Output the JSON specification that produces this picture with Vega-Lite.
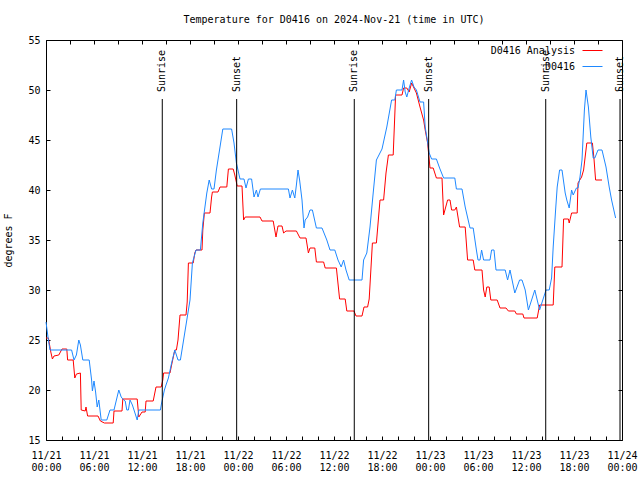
{
  "$schema": "https://vega.github.io/schema/vega-lite/v6.json",
  "width": 576,
  "height": 400,
  "autosize": {"type": "none"},
  "padding": {"left": 46, "top": 40, "right": 18, "bottom": 40},
  "background": "white",
  "title": {"text": "Temperature for D0416 on 2024-Nov-21 (time in UTC)", "font": "DejaVu Sans Mono", "fontSize": 10, "fontWeight": "normal", "anchor": "middle", "offset": 10, "color": "black"},
  "config": {
    "view": {"stroke": "black", "strokeWidth": 1},
    "axis": {"domain": false, "grid": false, "labelFont": "DejaVu Sans Mono", "labelFontSize": 10, "labelColor": "black", "titleFont": "DejaVu Sans Mono", "titleFontSize": 10, "titleFontWeight": "normal", "titleColor": "black", "tickColor": "black", "tickWidth": 1},
    "legend": {"labelFont": "DejaVu Sans Mono", "labelFontSize": 10, "labelColor": "black"}
  },
  "datasets": {
    "temps": [
      {"t": "2024-11-21T00:00:00Z", "temp": 25.2, "series": "D0416 Analysis"},
      {"t": "2024-11-21T00:18:00Z", "temp": 25.2, "series": "D0416 Analysis"},
      {"t": "2024-11-21T00:36:00Z", "temp": 23.8, "series": "D0416 Analysis"},
      {"t": "2024-11-21T00:48:00Z", "temp": 23.1, "series": "D0416 Analysis"},
      {"t": "2024-11-21T01:00:00Z", "temp": 23.4, "series": "D0416 Analysis"},
      {"t": "2024-11-21T01:36:00Z", "temp": 23.5, "series": "D0416 Analysis"},
      {"t": "2024-11-21T02:00:00Z", "temp": 24.1, "series": "D0416 Analysis"},
      {"t": "2024-11-21T02:36:00Z", "temp": 24.1, "series": "D0416 Analysis"},
      {"t": "2024-11-21T02:42:00Z", "temp": 23.0, "series": "D0416 Analysis"},
      {"t": "2024-11-21T03:24:00Z", "temp": 23.0, "series": "D0416 Analysis"},
      {"t": "2024-11-21T03:36:00Z", "temp": 21.2, "series": "D0416 Analysis"},
      {"t": "2024-11-21T03:48:00Z", "temp": 21.6, "series": "D0416 Analysis"},
      {"t": "2024-11-21T04:18:00Z", "temp": 21.7, "series": "D0416 Analysis"},
      {"t": "2024-11-21T04:24:00Z", "temp": 18.0, "series": "D0416 Analysis"},
      {"t": "2024-11-21T04:54:00Z", "temp": 17.9, "series": "D0416 Analysis"},
      {"t": "2024-11-21T05:00:00Z", "temp": 18.3, "series": "D0416 Analysis"},
      {"t": "2024-11-21T05:12:00Z", "temp": 17.4, "series": "D0416 Analysis"},
      {"t": "2024-11-21T06:30:00Z", "temp": 17.4, "series": "D0416 Analysis"},
      {"t": "2024-11-21T06:48:00Z", "temp": 16.9, "series": "D0416 Analysis"},
      {"t": "2024-11-21T07:18:00Z", "temp": 16.7, "series": "D0416 Analysis"},
      {"t": "2024-11-21T08:24:00Z", "temp": 16.7, "series": "D0416 Analysis"},
      {"t": "2024-11-21T08:30:00Z", "temp": 17.9, "series": "D0416 Analysis"},
      {"t": "2024-11-21T09:30:00Z", "temp": 17.9, "series": "D0416 Analysis"},
      {"t": "2024-11-21T09:36:00Z", "temp": 19.1, "series": "D0416 Analysis"},
      {"t": "2024-11-21T11:24:00Z", "temp": 19.1, "series": "D0416 Analysis"},
      {"t": "2024-11-21T11:36:00Z", "temp": 17.3, "series": "D0416 Analysis"},
      {"t": "2024-11-21T12:00:00Z", "temp": 17.8, "series": "D0416 Analysis"},
      {"t": "2024-11-21T12:24:00Z", "temp": 17.8, "series": "D0416 Analysis"},
      {"t": "2024-11-21T12:30:00Z", "temp": 18.9, "series": "D0416 Analysis"},
      {"t": "2024-11-21T13:24:00Z", "temp": 18.9, "series": "D0416 Analysis"},
      {"t": "2024-11-21T13:45:00Z", "temp": 20.3, "series": "D0416 Analysis"},
      {"t": "2024-11-21T14:24:00Z", "temp": 20.3, "series": "D0416 Analysis"},
      {"t": "2024-11-21T14:36:00Z", "temp": 21.0, "series": "D0416 Analysis"},
      {"t": "2024-11-21T14:42:00Z", "temp": 21.7, "series": "D0416 Analysis"},
      {"t": "2024-11-21T15:30:00Z", "temp": 21.7, "series": "D0416 Analysis"},
      {"t": "2024-11-21T15:42:00Z", "temp": 22.5, "series": "D0416 Analysis"},
      {"t": "2024-11-21T16:06:00Z", "temp": 24.0, "series": "D0416 Analysis"},
      {"t": "2024-11-21T16:18:00Z", "temp": 24.0, "series": "D0416 Analysis"},
      {"t": "2024-11-21T16:30:00Z", "temp": 25.0, "series": "D0416 Analysis"},
      {"t": "2024-11-21T16:45:00Z", "temp": 27.5, "series": "D0416 Analysis"},
      {"t": "2024-11-21T17:30:00Z", "temp": 27.5, "series": "D0416 Analysis"},
      {"t": "2024-11-21T17:39:00Z", "temp": 28.8, "series": "D0416 Analysis"},
      {"t": "2024-11-21T17:48:00Z", "temp": 32.7, "series": "D0416 Analysis"},
      {"t": "2024-11-21T18:24:00Z", "temp": 32.7, "series": "D0416 Analysis"},
      {"t": "2024-11-21T18:36:00Z", "temp": 33.7, "series": "D0416 Analysis"},
      {"t": "2024-11-21T18:45:00Z", "temp": 34.0, "series": "D0416 Analysis"},
      {"t": "2024-11-21T19:30:00Z", "temp": 34.0, "series": "D0416 Analysis"},
      {"t": "2024-11-21T19:36:00Z", "temp": 36.0, "series": "D0416 Analysis"},
      {"t": "2024-11-21T19:48:00Z", "temp": 37.7, "series": "D0416 Analysis"},
      {"t": "2024-11-21T20:30:00Z", "temp": 37.7, "series": "D0416 Analysis"},
      {"t": "2024-11-21T20:42:00Z", "temp": 39.3, "series": "D0416 Analysis"},
      {"t": "2024-11-21T20:48:00Z", "temp": 39.8, "series": "D0416 Analysis"},
      {"t": "2024-11-21T21:30:00Z", "temp": 39.8, "series": "D0416 Analysis"},
      {"t": "2024-11-21T21:45:00Z", "temp": 40.3, "series": "D0416 Analysis"},
      {"t": "2024-11-21T22:36:00Z", "temp": 40.3, "series": "D0416 Analysis"},
      {"t": "2024-11-21T22:48:00Z", "temp": 42.1, "series": "D0416 Analysis"},
      {"t": "2024-11-21T23:24:00Z", "temp": 42.1, "series": "D0416 Analysis"},
      {"t": "2024-11-21T23:36:00Z", "temp": 41.5, "series": "D0416 Analysis"},
      {"t": "2024-11-21T23:54:00Z", "temp": 40.4, "series": "D0416 Analysis"},
      {"t": "2024-11-22T00:30:00Z", "temp": 40.4, "series": "D0416 Analysis"},
      {"t": "2024-11-22T00:42:00Z", "temp": 37.0, "series": "D0416 Analysis"},
      {"t": "2024-11-22T00:54:00Z", "temp": 37.3, "series": "D0416 Analysis"},
      {"t": "2024-11-22T02:45:00Z", "temp": 37.3, "series": "D0416 Analysis"},
      {"t": "2024-11-22T03:00:00Z", "temp": 36.9, "series": "D0416 Analysis"},
      {"t": "2024-11-22T04:24:00Z", "temp": 36.9, "series": "D0416 Analysis"},
      {"t": "2024-11-22T04:45:00Z", "temp": 35.3, "series": "D0416 Analysis"},
      {"t": "2024-11-22T05:00:00Z", "temp": 36.4, "series": "D0416 Analysis"},
      {"t": "2024-11-22T05:30:00Z", "temp": 36.4, "series": "D0416 Analysis"},
      {"t": "2024-11-22T05:42:00Z", "temp": 35.7, "series": "D0416 Analysis"},
      {"t": "2024-11-22T06:00:00Z", "temp": 35.9, "series": "D0416 Analysis"},
      {"t": "2024-11-22T07:18:00Z", "temp": 35.9, "series": "D0416 Analysis"},
      {"t": "2024-11-22T07:45:00Z", "temp": 35.2, "series": "D0416 Analysis"},
      {"t": "2024-11-22T08:30:00Z", "temp": 35.2, "series": "D0416 Analysis"},
      {"t": "2024-11-22T08:48:00Z", "temp": 33.7, "series": "D0416 Analysis"},
      {"t": "2024-11-22T09:00:00Z", "temp": 34.2, "series": "D0416 Analysis"},
      {"t": "2024-11-22T09:36:00Z", "temp": 34.2, "series": "D0416 Analysis"},
      {"t": "2024-11-22T09:48:00Z", "temp": 32.8, "series": "D0416 Analysis"},
      {"t": "2024-11-22T10:42:00Z", "temp": 32.8, "series": "D0416 Analysis"},
      {"t": "2024-11-22T10:54:00Z", "temp": 32.2, "series": "D0416 Analysis"},
      {"t": "2024-11-22T12:18:00Z", "temp": 32.2, "series": "D0416 Analysis"},
      {"t": "2024-11-22T12:42:00Z", "temp": 29.1, "series": "D0416 Analysis"},
      {"t": "2024-11-22T13:24:00Z", "temp": 29.1, "series": "D0416 Analysis"},
      {"t": "2024-11-22T13:36:00Z", "temp": 27.9, "series": "D0416 Analysis"},
      {"t": "2024-11-22T14:30:00Z", "temp": 27.9, "series": "D0416 Analysis"},
      {"t": "2024-11-22T14:45:00Z", "temp": 27.4, "series": "D0416 Analysis"},
      {"t": "2024-11-22T15:30:00Z", "temp": 27.4, "series": "D0416 Analysis"},
      {"t": "2024-11-22T15:45:00Z", "temp": 28.3, "series": "D0416 Analysis"},
      {"t": "2024-11-22T16:12:00Z", "temp": 28.3, "series": "D0416 Analysis"},
      {"t": "2024-11-22T16:24:00Z", "temp": 29.1, "series": "D0416 Analysis"},
      {"t": "2024-11-22T16:48:00Z", "temp": 34.7, "series": "D0416 Analysis"},
      {"t": "2024-11-22T17:18:00Z", "temp": 34.7, "series": "D0416 Analysis"},
      {"t": "2024-11-22T17:45:00Z", "temp": 39.0, "series": "D0416 Analysis"},
      {"t": "2024-11-22T18:12:00Z", "temp": 39.0, "series": "D0416 Analysis"},
      {"t": "2024-11-22T18:30:00Z", "temp": 41.7, "series": "D0416 Analysis"},
      {"t": "2024-11-22T18:48:00Z", "temp": 43.5, "series": "D0416 Analysis"},
      {"t": "2024-11-22T19:24:00Z", "temp": 43.5, "series": "D0416 Analysis"},
      {"t": "2024-11-22T19:42:00Z", "temp": 49.5, "series": "D0416 Analysis"},
      {"t": "2024-11-22T20:30:00Z", "temp": 49.5, "series": "D0416 Analysis"},
      {"t": "2024-11-22T20:42:00Z", "temp": 50.2, "series": "D0416 Analysis"},
      {"t": "2024-11-22T21:06:00Z", "temp": 50.2, "series": "D0416 Analysis"},
      {"t": "2024-11-22T21:24:00Z", "temp": 49.8, "series": "D0416 Analysis"},
      {"t": "2024-11-22T21:42:00Z", "temp": 50.7, "series": "D0416 Analysis"},
      {"t": "2024-11-22T22:18:00Z", "temp": 49.7, "series": "D0416 Analysis"},
      {"t": "2024-11-22T22:45:00Z", "temp": 48.3, "series": "D0416 Analysis"},
      {"t": "2024-11-22T23:12:00Z", "temp": 47.0, "series": "D0416 Analysis"},
      {"t": "2024-11-22T23:24:00Z", "temp": 46.0, "series": "D0416 Analysis"},
      {"t": "2024-11-22T23:42:00Z", "temp": 44.7, "series": "D0416 Analysis"},
      {"t": "2024-11-23T00:00:00Z", "temp": 42.2, "series": "D0416 Analysis"},
      {"t": "2024-11-23T00:24:00Z", "temp": 42.2, "series": "D0416 Analysis"},
      {"t": "2024-11-23T00:48:00Z", "temp": 41.2, "series": "D0416 Analysis"},
      {"t": "2024-11-23T01:30:00Z", "temp": 41.2, "series": "D0416 Analysis"},
      {"t": "2024-11-23T01:42:00Z", "temp": 37.5, "series": "D0416 Analysis"},
      {"t": "2024-11-23T02:12:00Z", "temp": 39.0, "series": "D0416 Analysis"},
      {"t": "2024-11-23T02:30:00Z", "temp": 39.0, "series": "D0416 Analysis"},
      {"t": "2024-11-23T02:42:00Z", "temp": 38.0, "series": "D0416 Analysis"},
      {"t": "2024-11-23T03:06:00Z", "temp": 38.0, "series": "D0416 Analysis"},
      {"t": "2024-11-23T03:18:00Z", "temp": 38.3, "series": "D0416 Analysis"},
      {"t": "2024-11-23T03:42:00Z", "temp": 36.3, "series": "D0416 Analysis"},
      {"t": "2024-11-23T04:24:00Z", "temp": 36.3, "series": "D0416 Analysis"},
      {"t": "2024-11-23T04:42:00Z", "temp": 33.0, "series": "D0416 Analysis"},
      {"t": "2024-11-23T05:24:00Z", "temp": 33.0, "series": "D0416 Analysis"},
      {"t": "2024-11-23T05:36:00Z", "temp": 32.0, "series": "D0416 Analysis"},
      {"t": "2024-11-23T06:30:00Z", "temp": 32.0, "series": "D0416 Analysis"},
      {"t": "2024-11-23T06:42:00Z", "temp": 30.0, "series": "D0416 Analysis"},
      {"t": "2024-11-23T06:54:00Z", "temp": 29.3, "series": "D0416 Analysis"},
      {"t": "2024-11-23T07:06:00Z", "temp": 30.3, "series": "D0416 Analysis"},
      {"t": "2024-11-23T07:24:00Z", "temp": 30.3, "series": "D0416 Analysis"},
      {"t": "2024-11-23T07:36:00Z", "temp": 29.0, "series": "D0416 Analysis"},
      {"t": "2024-11-23T08:24:00Z", "temp": 29.0, "series": "D0416 Analysis"},
      {"t": "2024-11-23T08:45:00Z", "temp": 28.2, "series": "D0416 Analysis"},
      {"t": "2024-11-23T09:30:00Z", "temp": 28.2, "series": "D0416 Analysis"},
      {"t": "2024-11-23T09:48:00Z", "temp": 27.9, "series": "D0416 Analysis"},
      {"t": "2024-11-23T10:36:00Z", "temp": 27.9, "series": "D0416 Analysis"},
      {"t": "2024-11-23T10:48:00Z", "temp": 27.6, "series": "D0416 Analysis"},
      {"t": "2024-11-23T11:36:00Z", "temp": 27.6, "series": "D0416 Analysis"},
      {"t": "2024-11-23T11:45:00Z", "temp": 27.2, "series": "D0416 Analysis"},
      {"t": "2024-11-23T13:24:00Z", "temp": 27.2, "series": "D0416 Analysis"},
      {"t": "2024-11-23T13:42:00Z", "temp": 28.5, "series": "D0416 Analysis"},
      {"t": "2024-11-23T15:24:00Z", "temp": 28.5, "series": "D0416 Analysis"},
      {"t": "2024-11-23T15:36:00Z", "temp": 32.3, "series": "D0416 Analysis"},
      {"t": "2024-11-23T16:30:00Z", "temp": 32.3, "series": "D0416 Analysis"},
      {"t": "2024-11-23T16:42:00Z", "temp": 37.1, "series": "D0416 Analysis"},
      {"t": "2024-11-23T17:18:00Z", "temp": 37.1, "series": "D0416 Analysis"},
      {"t": "2024-11-23T17:24:00Z", "temp": 36.7, "series": "D0416 Analysis"},
      {"t": "2024-11-23T17:42:00Z", "temp": 37.7, "series": "D0416 Analysis"},
      {"t": "2024-11-23T18:24:00Z", "temp": 37.7, "series": "D0416 Analysis"},
      {"t": "2024-11-23T18:30:00Z", "temp": 40.7, "series": "D0416 Analysis"},
      {"t": "2024-11-23T18:57:00Z", "temp": 41.3, "series": "D0416 Analysis"},
      {"t": "2024-11-23T19:12:00Z", "temp": 42.0, "series": "D0416 Analysis"},
      {"t": "2024-11-23T19:36:00Z", "temp": 44.7, "series": "D0416 Analysis"},
      {"t": "2024-11-23T20:18:00Z", "temp": 44.7, "series": "D0416 Analysis"},
      {"t": "2024-11-23T20:30:00Z", "temp": 43.1, "series": "D0416 Analysis"},
      {"t": "2024-11-23T20:42:00Z", "temp": 41.0, "series": "D0416 Analysis"},
      {"t": "2024-11-23T21:30:00Z", "temp": 41.0, "series": "D0416 Analysis"},
      {"t": "2024-11-21T00:00:00Z", "temp": 26.8, "series": "D0416"},
      {"t": "2024-11-21T00:18:00Z", "temp": 25.0, "series": "D0416"},
      {"t": "2024-11-21T00:30:00Z", "temp": 24.0, "series": "D0416"},
      {"t": "2024-11-21T03:12:00Z", "temp": 24.0, "series": "D0416"},
      {"t": "2024-11-21T03:30:00Z", "temp": 23.0, "series": "D0416"},
      {"t": "2024-11-21T03:48:00Z", "temp": 23.5, "series": "D0416"},
      {"t": "2024-11-21T04:06:00Z", "temp": 25.0, "series": "D0416"},
      {"t": "2024-11-21T04:18:00Z", "temp": 24.5, "series": "D0416"},
      {"t": "2024-11-21T04:36:00Z", "temp": 23.0, "series": "D0416"},
      {"t": "2024-11-21T05:24:00Z", "temp": 23.0, "series": "D0416"},
      {"t": "2024-11-21T05:42:00Z", "temp": 21.0, "series": "D0416"},
      {"t": "2024-11-21T05:48:00Z", "temp": 19.9, "series": "D0416"},
      {"t": "2024-11-21T06:00:00Z", "temp": 20.9, "series": "D0416"},
      {"t": "2024-11-21T06:12:00Z", "temp": 19.8, "series": "D0416"},
      {"t": "2024-11-21T06:24:00Z", "temp": 18.3, "series": "D0416"},
      {"t": "2024-11-21T06:36:00Z", "temp": 19.0, "series": "D0416"},
      {"t": "2024-11-21T06:54:00Z", "temp": 17.0, "series": "D0416"},
      {"t": "2024-11-21T07:36:00Z", "temp": 17.0, "series": "D0416"},
      {"t": "2024-11-21T08:00:00Z", "temp": 18.0, "series": "D0416"},
      {"t": "2024-11-21T08:30:00Z", "temp": 18.0, "series": "D0416"},
      {"t": "2024-11-21T08:48:00Z", "temp": 19.0, "series": "D0416"},
      {"t": "2024-11-21T09:06:00Z", "temp": 20.0, "series": "D0416"},
      {"t": "2024-11-21T09:24:00Z", "temp": 19.3, "series": "D0416"},
      {"t": "2024-11-21T09:36:00Z", "temp": 19.1, "series": "D0416"},
      {"t": "2024-11-21T09:54:00Z", "temp": 18.9, "series": "D0416"},
      {"t": "2024-11-21T10:06:00Z", "temp": 18.0, "series": "D0416"},
      {"t": "2024-11-21T10:18:00Z", "temp": 18.0, "series": "D0416"},
      {"t": "2024-11-21T10:30:00Z", "temp": 19.0, "series": "D0416"},
      {"t": "2024-11-21T10:48:00Z", "temp": 18.5, "series": "D0416"},
      {"t": "2024-11-21T11:00:00Z", "temp": 18.0, "series": "D0416"},
      {"t": "2024-11-21T11:24:00Z", "temp": 17.0, "series": "D0416"},
      {"t": "2024-11-21T11:36:00Z", "temp": 18.0, "series": "D0416"},
      {"t": "2024-11-21T14:18:00Z", "temp": 18.0, "series": "D0416"},
      {"t": "2024-11-21T14:27:00Z", "temp": 18.7, "series": "D0416"},
      {"t": "2024-11-21T14:48:00Z", "temp": 20.0, "series": "D0416"},
      {"t": "2024-11-21T15:00:00Z", "temp": 20.5, "series": "D0416"},
      {"t": "2024-11-21T15:18:00Z", "temp": 21.2, "series": "D0416"},
      {"t": "2024-11-21T15:42:00Z", "temp": 22.7, "series": "D0416"},
      {"t": "2024-11-21T16:06:00Z", "temp": 24.0, "series": "D0416"},
      {"t": "2024-11-21T16:30:00Z", "temp": 23.0, "series": "D0416"},
      {"t": "2024-11-21T16:48:00Z", "temp": 23.0, "series": "D0416"},
      {"t": "2024-11-21T17:12:00Z", "temp": 25.0, "series": "D0416"},
      {"t": "2024-11-21T17:36:00Z", "temp": 27.0, "series": "D0416"},
      {"t": "2024-11-21T18:00:00Z", "temp": 29.0, "series": "D0416"},
      {"t": "2024-11-21T18:18:00Z", "temp": 32.7, "series": "D0416"},
      {"t": "2024-11-21T18:45:00Z", "temp": 34.0, "series": "D0416"},
      {"t": "2024-11-21T19:18:00Z", "temp": 34.0, "series": "D0416"},
      {"t": "2024-11-21T19:36:00Z", "temp": 36.7, "series": "D0416"},
      {"t": "2024-11-21T20:06:00Z", "temp": 39.7, "series": "D0416"},
      {"t": "2024-11-21T20:24:00Z", "temp": 41.0, "series": "D0416"},
      {"t": "2024-11-21T20:42:00Z", "temp": 40.1, "series": "D0416"},
      {"t": "2024-11-21T21:00:00Z", "temp": 40.1, "series": "D0416"},
      {"t": "2024-11-21T21:18:00Z", "temp": 42.0, "series": "D0416"},
      {"t": "2024-11-21T21:45:00Z", "temp": 44.3, "series": "D0416"},
      {"t": "2024-11-21T22:06:00Z", "temp": 46.1, "series": "D0416"},
      {"t": "2024-11-21T23:12:00Z", "temp": 46.1, "series": "D0416"},
      {"t": "2024-11-21T23:30:00Z", "temp": 44.7, "series": "D0416"},
      {"t": "2024-11-21T23:48:00Z", "temp": 42.7, "series": "D0416"},
      {"t": "2024-11-22T00:15:00Z", "temp": 41.1, "series": "D0416"},
      {"t": "2024-11-22T00:45:00Z", "temp": 41.1, "series": "D0416"},
      {"t": "2024-11-22T01:00:00Z", "temp": 40.2, "series": "D0416"},
      {"t": "2024-11-22T01:18:00Z", "temp": 41.1, "series": "D0416"},
      {"t": "2024-11-22T01:42:00Z", "temp": 41.1, "series": "D0416"},
      {"t": "2024-11-22T02:00:00Z", "temp": 39.3, "series": "D0416"},
      {"t": "2024-11-22T02:18:00Z", "temp": 40.0, "series": "D0416"},
      {"t": "2024-11-22T02:30:00Z", "temp": 39.3, "series": "D0416"},
      {"t": "2024-11-22T02:48:00Z", "temp": 40.1, "series": "D0416"},
      {"t": "2024-11-22T06:18:00Z", "temp": 40.1, "series": "D0416"},
      {"t": "2024-11-22T06:30:00Z", "temp": 39.2, "series": "D0416"},
      {"t": "2024-11-22T06:48:00Z", "temp": 40.0, "series": "D0416"},
      {"t": "2024-11-22T07:06:00Z", "temp": 39.2, "series": "D0416"},
      {"t": "2024-11-22T07:18:00Z", "temp": 40.5, "series": "D0416"},
      {"t": "2024-11-22T07:30:00Z", "temp": 42.0, "series": "D0416"},
      {"t": "2024-11-22T07:42:00Z", "temp": 41.0, "series": "D0416"},
      {"t": "2024-11-22T08:00:00Z", "temp": 39.0, "series": "D0416"},
      {"t": "2024-11-22T08:15:00Z", "temp": 36.2, "series": "D0416"},
      {"t": "2024-11-22T08:24:00Z", "temp": 37.0, "series": "D0416"},
      {"t": "2024-11-22T08:42:00Z", "temp": 37.3, "series": "D0416"},
      {"t": "2024-11-22T09:00:00Z", "temp": 38.0, "series": "D0416"},
      {"t": "2024-11-22T09:18:00Z", "temp": 38.0, "series": "D0416"},
      {"t": "2024-11-22T09:48:00Z", "temp": 36.2, "series": "D0416"},
      {"t": "2024-11-22T10:30:00Z", "temp": 36.2, "series": "D0416"},
      {"t": "2024-11-22T11:06:00Z", "temp": 35.0, "series": "D0416"},
      {"t": "2024-11-22T11:30:00Z", "temp": 34.0, "series": "D0416"},
      {"t": "2024-11-22T12:06:00Z", "temp": 34.0, "series": "D0416"},
      {"t": "2024-11-22T12:30:00Z", "temp": 33.0, "series": "D0416"},
      {"t": "2024-11-22T12:54:00Z", "temp": 32.3, "series": "D0416"},
      {"t": "2024-11-22T13:12:00Z", "temp": 33.0, "series": "D0416"},
      {"t": "2024-11-22T13:30:00Z", "temp": 32.0, "series": "D0416"},
      {"t": "2024-11-22T13:54:00Z", "temp": 31.0, "series": "D0416"},
      {"t": "2024-11-22T15:30:00Z", "temp": 31.0, "series": "D0416"},
      {"t": "2024-11-22T15:42:00Z", "temp": 33.0, "series": "D0416"},
      {"t": "2024-11-22T16:06:00Z", "temp": 33.7, "series": "D0416"},
      {"t": "2024-11-22T16:30:00Z", "temp": 36.3, "series": "D0416"},
      {"t": "2024-11-22T16:54:00Z", "temp": 39.7, "series": "D0416"},
      {"t": "2024-11-22T17:18:00Z", "temp": 43.0, "series": "D0416"},
      {"t": "2024-11-22T18:00:00Z", "temp": 44.1, "series": "D0416"},
      {"t": "2024-11-22T18:36:00Z", "temp": 46.3, "series": "D0416"},
      {"t": "2024-11-22T19:12:00Z", "temp": 49.0, "series": "D0416"},
      {"t": "2024-11-22T19:36:00Z", "temp": 49.0, "series": "D0416"},
      {"t": "2024-11-22T19:48:00Z", "temp": 50.0, "series": "D0416"},
      {"t": "2024-11-22T20:30:00Z", "temp": 50.0, "series": "D0416"},
      {"t": "2024-11-22T20:42:00Z", "temp": 51.0, "series": "D0416"},
      {"t": "2024-11-22T20:54:00Z", "temp": 49.8, "series": "D0416"},
      {"t": "2024-11-22T21:06:00Z", "temp": 49.3, "series": "D0416"},
      {"t": "2024-11-22T21:24:00Z", "temp": 50.2, "series": "D0416"},
      {"t": "2024-11-22T21:42:00Z", "temp": 51.0, "series": "D0416"},
      {"t": "2024-11-22T22:00:00Z", "temp": 50.3, "series": "D0416"},
      {"t": "2024-11-22T22:18:00Z", "temp": 50.0, "series": "D0416"},
      {"t": "2024-11-22T22:45:00Z", "temp": 48.8, "series": "D0416"},
      {"t": "2024-11-22T23:12:00Z", "temp": 48.8, "series": "D0416"},
      {"t": "2024-11-22T23:24:00Z", "temp": 46.3, "series": "D0416"},
      {"t": "2024-11-22T23:42:00Z", "temp": 44.8, "series": "D0416"},
      {"t": "2024-11-22T23:54:00Z", "temp": 43.7, "series": "D0416"},
      {"t": "2024-11-23T00:12:00Z", "temp": 43.1, "series": "D0416"},
      {"t": "2024-11-23T00:48:00Z", "temp": 43.1, "series": "D0416"},
      {"t": "2024-11-23T01:12:00Z", "temp": 42.2, "series": "D0416"},
      {"t": "2024-11-23T01:42:00Z", "temp": 41.2, "series": "D0416"},
      {"t": "2024-11-23T03:06:00Z", "temp": 41.2, "series": "D0416"},
      {"t": "2024-11-23T03:18:00Z", "temp": 40.1, "series": "D0416"},
      {"t": "2024-11-23T04:00:00Z", "temp": 40.1, "series": "D0416"},
      {"t": "2024-11-23T04:24:00Z", "temp": 38.3, "series": "D0416"},
      {"t": "2024-11-23T05:00:00Z", "temp": 36.2, "series": "D0416"},
      {"t": "2024-11-23T05:24:00Z", "temp": 36.2, "series": "D0416"},
      {"t": "2024-11-23T05:48:00Z", "temp": 34.0, "series": "D0416"},
      {"t": "2024-11-23T06:00:00Z", "temp": 33.0, "series": "D0416"},
      {"t": "2024-11-23T06:15:00Z", "temp": 33.0, "series": "D0416"},
      {"t": "2024-11-23T06:27:00Z", "temp": 34.0, "series": "D0416"},
      {"t": "2024-11-23T06:42:00Z", "temp": 33.0, "series": "D0416"},
      {"t": "2024-11-23T07:30:00Z", "temp": 33.0, "series": "D0416"},
      {"t": "2024-11-23T07:42:00Z", "temp": 34.0, "series": "D0416"},
      {"t": "2024-11-23T08:00:00Z", "temp": 34.0, "series": "D0416"},
      {"t": "2024-11-23T08:15:00Z", "temp": 32.0, "series": "D0416"},
      {"t": "2024-11-23T09:24:00Z", "temp": 32.0, "series": "D0416"},
      {"t": "2024-11-23T09:42:00Z", "temp": 31.0, "series": "D0416"},
      {"t": "2024-11-23T10:00:00Z", "temp": 32.0, "series": "D0416"},
      {"t": "2024-11-23T10:36:00Z", "temp": 29.7, "series": "D0416"},
      {"t": "2024-11-23T11:12:00Z", "temp": 31.0, "series": "D0416"},
      {"t": "2024-11-23T11:30:00Z", "temp": 31.0, "series": "D0416"},
      {"t": "2024-11-23T11:54:00Z", "temp": 30.0, "series": "D0416"},
      {"t": "2024-11-23T12:18:00Z", "temp": 28.0, "series": "D0416"},
      {"t": "2024-11-23T12:42:00Z", "temp": 29.0, "series": "D0416"},
      {"t": "2024-11-23T13:06:00Z", "temp": 30.0, "series": "D0416"},
      {"t": "2024-11-23T13:42:00Z", "temp": 28.0, "series": "D0416"},
      {"t": "2024-11-23T14:06:00Z", "temp": 29.0, "series": "D0416"},
      {"t": "2024-11-23T14:30:00Z", "temp": 30.0, "series": "D0416"},
      {"t": "2024-11-23T14:54:00Z", "temp": 30.0, "series": "D0416"},
      {"t": "2024-11-23T15:12:00Z", "temp": 31.2, "series": "D0416"},
      {"t": "2024-11-23T15:24:00Z", "temp": 34.3, "series": "D0416"},
      {"t": "2024-11-23T15:42:00Z", "temp": 38.0, "series": "D0416"},
      {"t": "2024-11-23T15:54:00Z", "temp": 40.3, "series": "D0416"},
      {"t": "2024-11-23T16:12:00Z", "temp": 42.0, "series": "D0416"},
      {"t": "2024-11-23T16:30:00Z", "temp": 42.0, "series": "D0416"},
      {"t": "2024-11-23T16:54:00Z", "temp": 39.7, "series": "D0416"},
      {"t": "2024-11-23T17:06:00Z", "temp": 39.0, "series": "D0416"},
      {"t": "2024-11-23T17:24:00Z", "temp": 38.2, "series": "D0416"},
      {"t": "2024-11-23T17:42:00Z", "temp": 40.0, "series": "D0416"},
      {"t": "2024-11-23T17:54:00Z", "temp": 39.5, "series": "D0416"},
      {"t": "2024-11-23T18:18:00Z", "temp": 40.2, "series": "D0416"},
      {"t": "2024-11-23T18:30:00Z", "temp": 40.2, "series": "D0416"},
      {"t": "2024-11-23T18:45:00Z", "temp": 41.3, "series": "D0416"},
      {"t": "2024-11-23T19:00:00Z", "temp": 43.0, "series": "D0416"},
      {"t": "2024-11-23T19:18:00Z", "temp": 48.0, "series": "D0416"},
      {"t": "2024-11-23T19:30:00Z", "temp": 50.0, "series": "D0416"},
      {"t": "2024-11-23T19:48:00Z", "temp": 48.3, "series": "D0416"},
      {"t": "2024-11-23T20:06:00Z", "temp": 45.3, "series": "D0416"},
      {"t": "2024-11-23T20:24:00Z", "temp": 43.2, "series": "D0416"},
      {"t": "2024-11-23T20:36:00Z", "temp": 43.2, "series": "D0416"},
      {"t": "2024-11-23T21:00:00Z", "temp": 44.0, "series": "D0416"},
      {"t": "2024-11-23T21:30:00Z", "temp": 44.0, "series": "D0416"},
      {"t": "2024-11-23T22:00:00Z", "temp": 42.3, "series": "D0416"},
      {"t": "2024-11-23T22:24:00Z", "temp": 40.3, "series": "D0416"},
      {"t": "2024-11-23T22:42:00Z", "temp": 39.0, "series": "D0416"},
      {"t": "2024-11-23T23:12:00Z", "temp": 37.2, "series": "D0416"}
    ],
    "sun": [
      {"t": "2024-11-21T14:32:00Z", "event": "Sunrise"},
      {"t": "2024-11-21T23:50:00Z", "event": "Sunset"},
      {"t": "2024-11-22T14:32:00Z", "event": "Sunrise"},
      {"t": "2024-11-22T23:50:00Z", "event": "Sunset"},
      {"t": "2024-11-23T14:28:00Z", "event": "Sunrise"},
      {"t": "2024-11-23T23:45:00Z", "event": "Sunset"}
    ]
  },
  "resolve": {"axis": {"x": "independent", "y": "independent"}},
  "layer": [
    {
      "data": {"name": "temps"},
      "mark": {"type": "line", "strokeWidth": 1},
      "encoding": {
        "x": {
          "field": "t", "type": "temporal",
          "scale": {"type": "utc", "domain": [{"year": 2024, "month": 11, "date": 21, "utc": true}, {"year": 2024, "month": 11, "date": 24, "utc": true}]},
          "axis": {
            "orient": "bottom", "title": null,
            "values": [
              {"year": 2024, "month": 11, "date": 21, "hours": 0, "utc": true},
              {"year": 2024, "month": 11, "date": 21, "hours": 2, "utc": true},
              {"year": 2024, "month": 11, "date": 21, "hours": 4, "utc": true},
              {"year": 2024, "month": 11, "date": 21, "hours": 6, "utc": true},
              {"year": 2024, "month": 11, "date": 21, "hours": 8, "utc": true},
              {"year": 2024, "month": 11, "date": 21, "hours": 10, "utc": true},
              {"year": 2024, "month": 11, "date": 21, "hours": 12, "utc": true},
              {"year": 2024, "month": 11, "date": 21, "hours": 14, "utc": true},
              {"year": 2024, "month": 11, "date": 21, "hours": 16, "utc": true},
              {"year": 2024, "month": 11, "date": 21, "hours": 18, "utc": true},
              {"year": 2024, "month": 11, "date": 21, "hours": 20, "utc": true},
              {"year": 2024, "month": 11, "date": 21, "hours": 22, "utc": true},
              {"year": 2024, "month": 11, "date": 22, "hours": 0, "utc": true},
              {"year": 2024, "month": 11, "date": 22, "hours": 2, "utc": true},
              {"year": 2024, "month": 11, "date": 22, "hours": 4, "utc": true},
              {"year": 2024, "month": 11, "date": 22, "hours": 6, "utc": true},
              {"year": 2024, "month": 11, "date": 22, "hours": 8, "utc": true},
              {"year": 2024, "month": 11, "date": 22, "hours": 10, "utc": true},
              {"year": 2024, "month": 11, "date": 22, "hours": 12, "utc": true},
              {"year": 2024, "month": 11, "date": 22, "hours": 14, "utc": true},
              {"year": 2024, "month": 11, "date": 22, "hours": 16, "utc": true},
              {"year": 2024, "month": 11, "date": 22, "hours": 18, "utc": true},
              {"year": 2024, "month": 11, "date": 22, "hours": 20, "utc": true},
              {"year": 2024, "month": 11, "date": 22, "hours": 22, "utc": true},
              {"year": 2024, "month": 11, "date": 23, "hours": 0, "utc": true},
              {"year": 2024, "month": 11, "date": 23, "hours": 2, "utc": true},
              {"year": 2024, "month": 11, "date": 23, "hours": 4, "utc": true},
              {"year": 2024, "month": 11, "date": 23, "hours": 6, "utc": true},
              {"year": 2024, "month": 11, "date": 23, "hours": 8, "utc": true},
              {"year": 2024, "month": 11, "date": 23, "hours": 10, "utc": true},
              {"year": 2024, "month": 11, "date": 23, "hours": 12, "utc": true},
              {"year": 2024, "month": 11, "date": 23, "hours": 14, "utc": true},
              {"year": 2024, "month": 11, "date": 23, "hours": 16, "utc": true},
              {"year": 2024, "month": 11, "date": 23, "hours": 18, "utc": true},
              {"year": 2024, "month": 11, "date": 23, "hours": 20, "utc": true},
              {"year": 2024, "month": 11, "date": 23, "hours": 22, "utc": true},
              {"year": 2024, "month": 11, "date": 24, "hours": 0, "utc": true}
            ],
            "tickSize": -4,
            "labelExpr": "utchours(datum.value) % 6 == 0 ? [utcFormat(datum.value, '%m/%d'), utcFormat(datum.value, '%H:%M')] : ''",
            "labelFlush": false, "labelOverlap": false, "labelPadding": 14, "labelLineHeight": 12, "labelBaseline": "top"
          }
        },
        "y": {
          "field": "temp", "type": "quantitative",
          "scale": {"domain": [15, 55], "nice": false, "zero": false},
          "axis": {"title": "degrees F", "values": [15, 20, 25, 30, 35, 40, 45, 50, 55], "tickSize": -4, "labelPadding": 10, "titlePadding": 14}
        },
        "color": {
          "field": "series", "type": "nominal",
          "scale": {"domain": ["D0416 Analysis", "D0416"], "range": ["#ff0000", "#1e88ff"]},
          "legend": {"title": null, "orient": "none", "legendX": 536, "legendY": 0, "symbolType": "stroke", "symbolSize": 400, "symbolStrokeWidth": 1, "labelAlign": "right", "labelOffset": -28, "rowPadding": -7, "padding": 0}
        }
      }
    },
    {
      "data": {"name": "sun"},
      "mark": {"type": "rule", "color": "black", "strokeWidth": 1},
      "encoding": {
        "x": {
          "field": "t", "type": "temporal",
          "axis": {"orient": "top", "title": null, "labels": false, "tickSize": -4, "ticks": true, "tickColor": "black", "tickCount": 36}
        },
        "y": {"datum": 49.1, "type": "quantitative", "axis": {"orient": "right", "title": null, "labels": false, "values": [15, 20, 25, 30, 35, 40, 45, 50, 55], "tickSize": -4, "ticks": true, "tickColor": "black"}},
        "y2": {"datum": 15}
      }
    },
    {
      "data": {"name": "sun"},
      "mark": {"type": "text", "angle": 270, "align": "left", "baseline": "middle", "font": "DejaVu Sans Mono", "fontSize": 10, "color": "black"},
      "encoding": {
        "x": {"field": "t", "type": "temporal", "axis": null},
        "y": {"datum": 49.8, "type": "quantitative", "axis": null},
        "text": {"field": "event"}
      }
    }
  ]
}
